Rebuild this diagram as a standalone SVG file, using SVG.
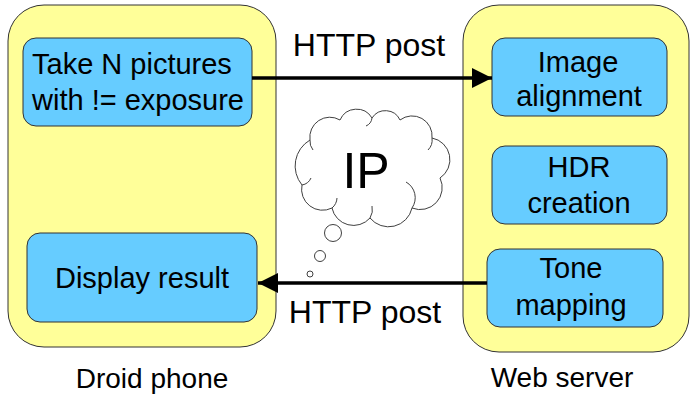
<svg xmlns="http://www.w3.org/2000/svg" width="690" height="396" viewBox="0 0 690 396">
  <style>
    .container { fill: #FFFF99; stroke: #333333; stroke-width: 1; }
    .step { fill: #66CCFF; stroke: #333333; stroke-width: 1; }
    text { font-family: "Liberation Sans", Arial, sans-serif; fill: #000000; }
    .label { font-size: 29px; }
    .caption { font-size: 28px; }
    .edge-label { font-size: 32px; }
    .flow { stroke: #000000; stroke-width: 3.5; fill: none; }
    .thought { fill: #FFFFFF; stroke: #404040; stroke-width: 1; }
    .curl { fill: none; stroke: #404040; stroke-width: 1; }
  </style>
  <defs>
    <marker id="arrowhead" viewBox="0 0 20 20" refX="20" refY="10" markerWidth="20" markerHeight="20" markerUnits="userSpaceOnUse" orient="auto">
      <path d="M0,0 L20,10 L0,20 Z" fill="#000000"/>
    </marker>
  </defs>

  <rect width="690" height="396" fill="#FFFFFF"/>

  <!-- Client side -->
  <g id="droid-phone">
    <rect class="container" x="8" y="5" width="268" height="342" rx="36" ry="36"/>
    <text class="caption" x="152" y="388" text-anchor="middle">Droid phone</text>
  </g>

  <!-- Server side -->
  <g id="web-server">
    <rect class="container" x="463" y="5" width="226" height="347" rx="36" ry="36"/>
    <text class="caption" x="562" y="387" text-anchor="middle">Web server</text>
  </g>

  <g id="take-pictures">
    <rect class="step" x="23" y="38" width="229" height="88" rx="13" ry="13"/>
    <text class="label" x="32" y="74">Take N pictures</text>
    <text class="label" x="32" y="110">with != exposure</text>
  </g>

  <g id="display-result">
    <rect class="step" x="27" y="233" width="230" height="89" rx="13" ry="13"/>
    <text class="label" x="142" y="288" text-anchor="middle">Display result</text>
  </g>

  <g id="image-alignment">
    <rect class="step" x="492" y="38" width="175" height="78" rx="13" ry="13"/>
    <text class="label" x="578" y="72" text-anchor="middle">Image</text>
    <text class="label" x="579" y="106" text-anchor="middle">alignment</text>
  </g>

  <g id="hdr-creation">
    <rect class="step" x="492" y="146" width="175" height="78" rx="13" ry="13"/>
    <text class="label" x="579" y="177" text-anchor="middle">HDR</text>
    <text class="label" x="579" y="213" text-anchor="middle">creation</text>
  </g>

  <g id="tone-mapping">
    <rect class="step" x="487" y="249" width="176" height="78" rx="13" ry="13"/>
    <text class="label" x="571" y="278" text-anchor="middle">Tone</text>
    <text class="label" x="571" y="315" text-anchor="middle">mapping</text>
  </g>

  <!-- Thought cloud -->
  <g id="ip-cloud">
    <path class="thought" d="M310,140 A20,20 0 0 1 340,120 A18,18 0 0 1 372,118 A16,16 0 0 1 400,120 A20,20 0 0 1 432,138 A22,22 0 0 1 440,178 A22,22 0 0 1 412,208 A24,24 0 0 1 370,218 A22,22 0 0 1 332,208 A21,21 0 0 1 302,185 A30,30 0 0 1 310,140 Z"/>
    <path class="curl" d="M310,140 A14,14 0 0 0 313,150"/>
    <path class="curl" d="M302,185 A12,12 0 0 0 311,178"/>
    <path class="curl" d="M332,208 A14,14 0 0 0 337,198"/>
    <path class="curl" d="M370,218 A16,16 0 0 0 372,206"/>
    <path class="curl" d="M412,208 A18,18 0 0 0 406,182"/>
    <path class="curl" d="M432,138 A14,14 0 0 1 428,150"/>
    <path class="curl" d="M372,118 A10,10 0 0 1 366,126"/>
    <circle class="thought" cx="333" cy="233" r="8.5"/>
    <circle class="thought" cx="320" cy="256" r="5.5"/>
    <circle class="thought" cx="310" cy="274" r="3"/>
    <text x="366" y="188" font-size="50" text-anchor="middle">IP</text>
  </g>

  <!-- Connectors -->
  <g id="connectors">
    <line class="flow" x1="252" y1="78" x2="492" y2="78" marker-end="url(#arrowhead)"/>
    <text class="edge-label" x="369" y="56" text-anchor="middle">HTTP post</text>
    <line class="flow" x1="487" y1="283" x2="258" y2="283" marker-end="url(#arrowhead)"/>
    <text class="edge-label" x="365" y="323" text-anchor="middle">HTTP post</text>
  </g>
</svg>
